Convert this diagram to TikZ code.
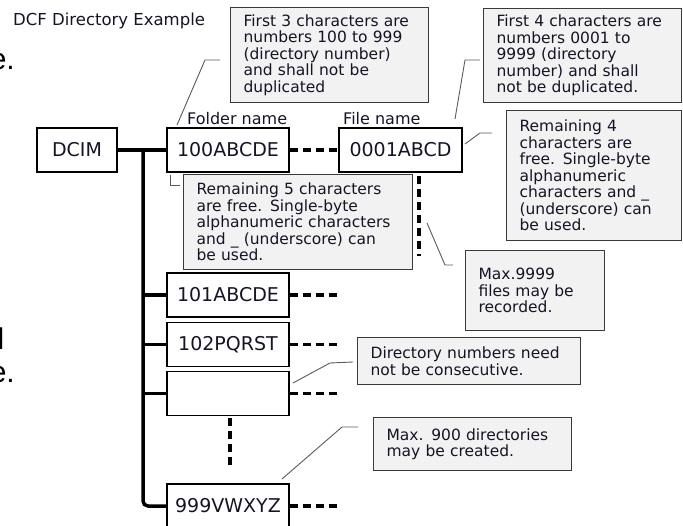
\documentclass[tikz,border=0pt]{standalone}
\usepackage{fontspec}
\setmainfont{DejaVu Sans}
\newfontfamily\fragfont{Liberation Sans}
\definecolor{calloutfill}{HTML}{F2F2F2}
\definecolor{calloutdraw}{HTML}{3A3A3A}
\definecolor{leadergray}{HTML}{5A5A5A}
\definecolor{txt}{HTML}{141426}
\tikzset{
  fbox/.style={draw=black, line width=1.1pt, minimum width=122pt, minimum height=44pt,
    inner sep=0pt, font=\fontsize{19}{22}\selectfont, text=txt},
  callout/.style={draw=calloutdraw, fill=calloutfill, line width=1.2pt, anchor=north west,
    align=left, inner xsep=13pt, inner ysep=0pt, font=\fontsize{15.5}{16.5}\selectfont, text=txt},
  lbl/.style={inner sep=0pt, anchor=base west, font=\fontsize{16}{18}\selectfont, text=txt},
  treeline/.style={line width=3.5pt},
  dashline/.style={line width=3.5pt, dash pattern=on 8pt off 5pt},
  leader/.style={draw=leadergray, line width=0.9pt},
  frag/.style={inner sep=0pt, anchor=base east, font=\fragfont\fontsize{30}{30}\selectfont, text=black}
}
\begin{document}
\begin{tikzpicture}[x=1pt,y=-1pt]
\useasboundingbox (0,0) rectangle (683,526);

% page fragments at the left edge
\node[frag] (fr1) at (15,70) {e.};
\node[frag] (fr2) at (4.5,350) {l};
\node[frag] (fr3) at (15,383) {e.};

% title and labels
\node[lbl, font=\fontsize{16.5}{18}\selectfont] (title) at (13,26) {DCF Directory Example};
\node[lbl] (lfolder) at (187,125) {Folder name};
\node[lbl] (lfile) at (343,125) {File name};

% folder / file boxes
\node[fbox, minimum width=80pt] (dcim) at (77,150) {DCIM};
\node[fbox] (f100) at (228,150) {100ABCDE};
\node[fbox, minimum width=123pt] (f0001) at (400.5,150) {0001ABCD};
\node[fbox] (f101) at (228,295) {101ABCDE};
\node[fbox] (f102) at (228,344.5) {102PQRST};
\node[fbox] (fe) at (228,393.5) {};
\node[fbox] (f999) at (228,506) {999VWXYZ};

% tree
\coordinate (trunk) at (143,150);
\draw[treeline] (dcim.east) -- (f100.west);
\draw[treeline, rounded corners=5pt] (trunk) |- (f999.west);
\draw[treeline] (trunk |- f101.west) -- (f101.west);
\draw[treeline] (trunk |- f102.west) -- (f102.west);
\draw[treeline] (trunk |- fe.west) -- (fe.west);

% dashed continuations
\coordinate (d101) at (340,295);
\coordinate (d102) at (340,344.5);
\coordinate (de) at (340,393.5);
\coordinate (d999) at (340,506);
\coordinate (vf1) at (419,176);
\coordinate (vf2) at (419,256);
\coordinate (vd1) at (230,418);
\coordinate (vd2) at (230,467);
\draw[dashline] (f100.east) -- (f0001.west);
\draw[dashline] (f101.east) -- (d101);
\draw[dashline] (f102.east) -- (d102);
\draw[dashline] (fe.east) -- (de);
\draw[dashline] (f999.east) -- (d999);
\draw[dashline] (vf1) -- (vf2);
\draw[dashline] (vd1) -- (vd2);

% callouts
\node[callout, minimum width=196pt, minimum height=95pt, text width=172pt] (c1) at (230,7)
  {First 3 characters are\\numbers 100 to 999\\(directory number)\\and shall not be\\duplicated};
\node[callout, minimum width=196pt, minimum height=94pt, text width=172pt] (c2) at (483,8)
  {First 4 characters are\\numbers 0001 to\\9999 (directory\\number) and shall\\not be duplicated.};
\node[callout, minimum width=227pt, minimum height=95pt, text width=203pt] (c3) at (183,174)
  {Remaining 5 characters\\are free. Single-byte\\alphanumeric characters\\and \_ (underscore) can\\be used.};
\node[callout, minimum width=173pt, minimum height=130pt, text width=149pt] (c4) at (506,110)
  {Remaining 4\\characters are\\free. Single-byte\\alphanumeric\\characters and \_\\(underscore) can\\be used.};
\node[callout, minimum width=137pt, minimum height=80pt, text width=113pt] (c5) at (465,250)
  {Max.9999\\files may be\\recorded.};
\node[callout, minimum width=221pt, minimum height=47pt, text width=197pt] (c6) at (357,337)
  {Directory numbers need\\not be consecutive.};
\node[callout, minimum width=196pt, minimum height=53pt, text width=172pt] (c7) at (373,417)
  {Max. 900 directories\\may be created.};

% leader lines
\coordinate (l1a) at (177,125); \coordinate (l1b) at (205,60); \coordinate (l1c) at (220,60);
\coordinate (l2a) at (455,119); \coordinate (l2b) at (465,60); \coordinate (l2c) at (480,60);
\coordinate (l3a) at (170,175); \coordinate (l3b) at (170,185); \coordinate (l3c) at (180,185);
\coordinate (l4a) at (465,144); \coordinate (l4b) at (480,133); \coordinate (l4c) at (492,133);
\coordinate (l5a) at (427,223); \coordinate (l5b) at (445,265); \coordinate (l5c) at (453,265);
\coordinate (l6a) at (293,383); \coordinate (l6b) at (330,363); \coordinate (l6c) at (353,362);
\coordinate (l7a) at (282,479); \coordinate (l7b) at (342,427); \coordinate (l7c) at (358,427);
\draw[leader] (l1a) -- (l1b) -- (l1c);
\draw[leader] (l2a) -- (l2b) -- (l2c);
\draw[leader] (l3a) -- (l3b) -- (l3c);
\draw[leader] (l4a) -- (l4b) -- (l4c);
\draw[leader] (l5a) -- (l5b) -- (l5c);
\draw[leader] (l6a) -- (l6b) -- (l6c);
\draw[leader] (l7a) -- (l7b) -- (l7c);
\end{tikzpicture}
\end{document}
